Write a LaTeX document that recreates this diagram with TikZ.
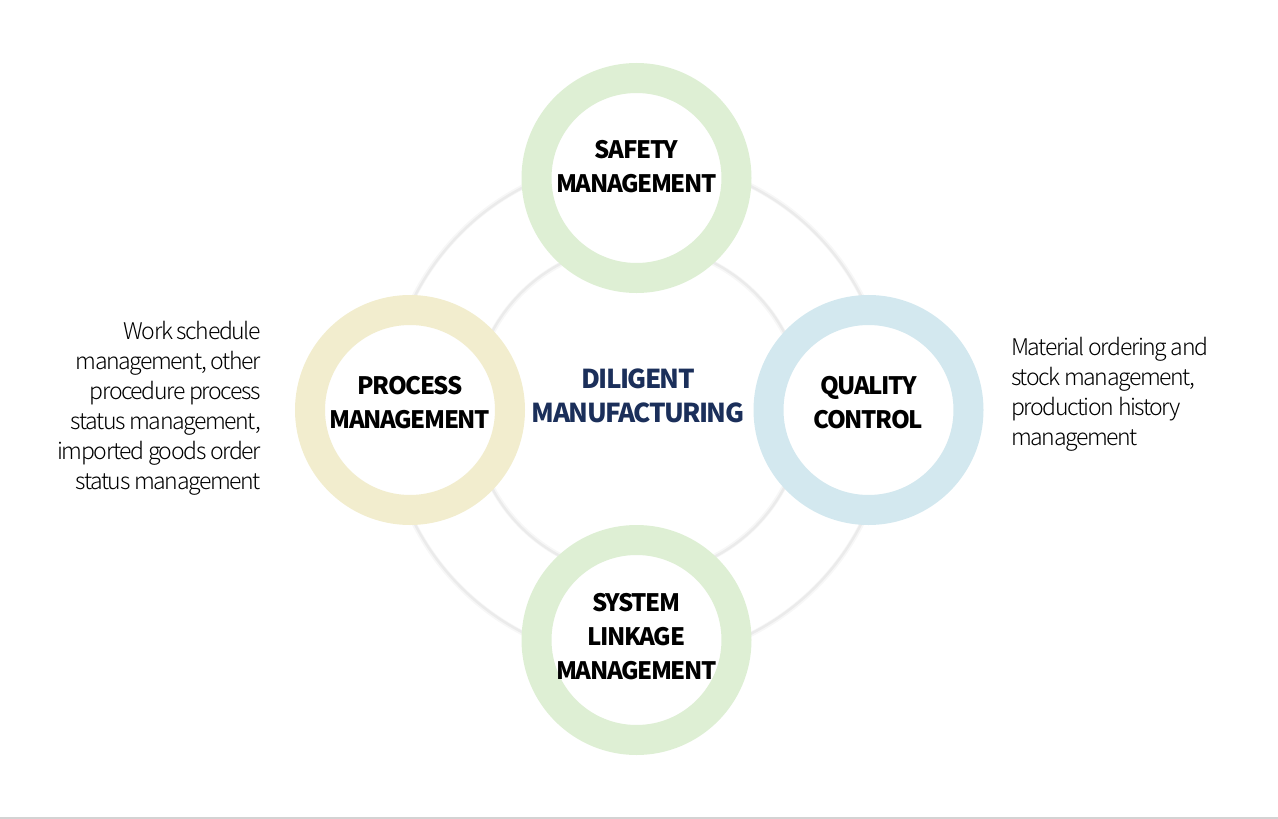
\documentclass[tikz,border=0pt]{standalone}
\usepackage{fontspec}
\setmainfont{Noto Sans CJK KR}[LetterSpace=-6]
\newfontfamily\lightfont{Noto Sans CJK KR Light}[LetterSpace=-6]
\definecolor{safetygreen}{RGB}{222,239,212}
\definecolor{processbeige}{RGB}{242,237,206}
\definecolor{qualityblue}{RGB}{211,232,239}
\definecolor{centernavy}{RGB}{27,47,90}
\definecolor{haloGray}{RGB}{200,200,200}

\begin{document}
\begin{tikzpicture}
[x=1pt,y=-1pt,%
  ring/.style={shape=circle,draw=#1,fill=white,line width=30pt,minimum size=200pt,
    inner sep=0pt},%
  heading/.style={inner sep=0pt,align=center,font=\fontsize{24}{34}\selectfont\bfseries},%
  desc/.style={inner sep=0pt,font=\lightfont\fontsize{23}{30}\selectfont},%
  halo/.style={draw=haloGray,draw opacity=#1}]
\useasboundingbox (0,0) rectangle (1278,819);
% soft grey band behind the four rings
\coordinate (mid) at (638,410);
\draw[halo=0.15,line width=5pt] (mid) circle (251);
\draw[halo=0.25,line width=2.5pt] (mid) circle (250.5);
\draw[halo=0.15,line width=5pt] (mid) circle (165);
\draw[halo=0.25,line width=2.5pt] (mid) circle (165.5);
\node[heading,text=centernavy,font=\fontsize{26}{34}\selectfont\bfseries]
  (core) at ([yshift=14pt]mid) {DILIGENT\\MANUFACTURING};
% the four rings
\node[ring=safetygreen] (safety) at (636.5,178) {};
\node[ring=processbeige] (process) at (410,410) {};
\node[ring=qualityblue] (quality) at (868.5,410) {};
\node[ring=safetygreen] (linkage) at (636.5,640) {};
\node[heading] (safetytext) at ([yshift=11pt]safety) {SAFETY\\MANAGEMENT};
\node[heading] (processtext) at ([yshift=7pt]process) {PROCESS\\MANAGEMENT};
\node[heading] (qualitytext) at ([yshift=7pt]quality) {QUALITY\\CONTROL};
\node[heading] (linkagetext) at ([yshift=3pt]linkage) {SYSTEM\\LINKAGE\\MANAGEMENT};
% descriptions
\node[desc,anchor=east,align=right] (processdesc) at (261,408)
  {Work schedule\\management, other\\procedure process\\status management,\\imported goods order\\status management};
\node[desc,anchor=west,align=left] (qualitydesc) at (1011,394)
  {Material ordering and\\stock management,\\production history\\management};
\draw[draw=haloGray!80,line width=2pt] (0,818) -- (1278,818);
\end{tikzpicture}
\end{document}
